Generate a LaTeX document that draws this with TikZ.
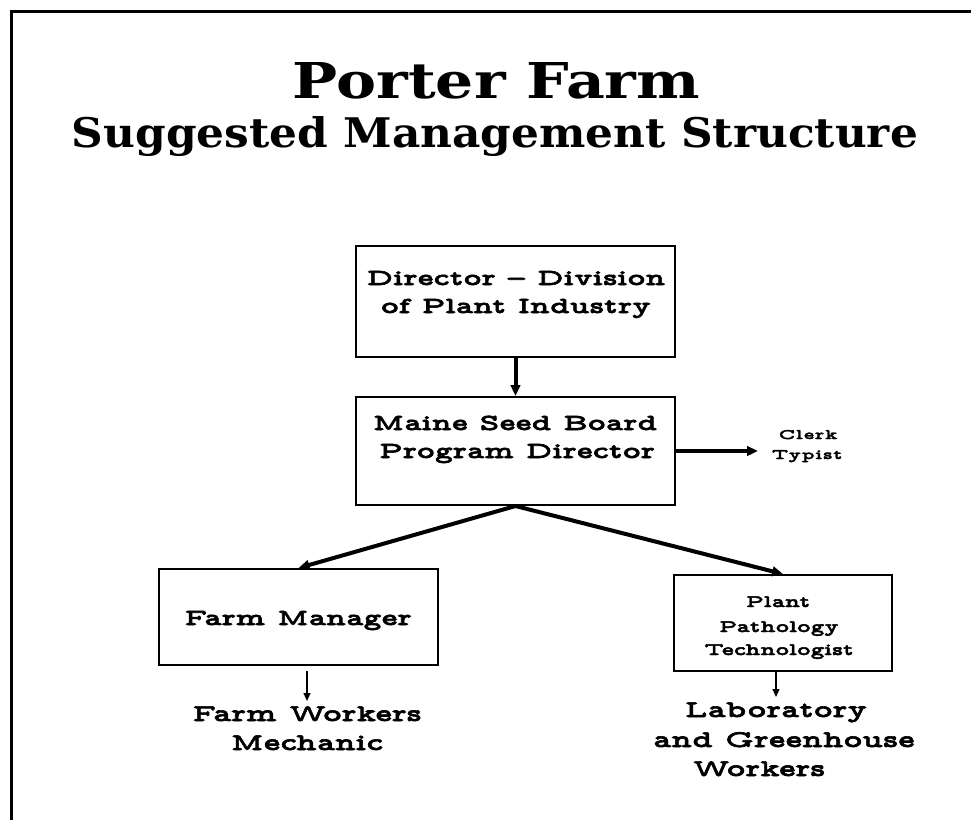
\documentclass[tikz,border=0pt]{standalone}
\usepackage{fontspec}
\usepackage{graphicx}
\usetikzlibrary{arrows.meta}
\newfontfamily\titlefont{DejaVu Serif}
\newfontfamily\boxfont[FakeStretch=1.45,LetterSpace=2,FakeBold=2.5]{lmmonoproplt10-bold.otf}
\newfontfamily\clerkfont[FakeStretch=1.5,LetterSpace=8,FakeBold=2.5]{lmmonoproplt10-bold.otf}
\tikzset{
  box/.style={draw, line width=2pt, inner sep=0pt},
  txt/.style={anchor=base, inner sep=0pt, font=\boxfont\fontsize{23}{26}\selectfont},
  ptxt/.style={anchor=base, inner sep=0pt, font=\boxfont\fontsize{17.5}{20}\selectfont},
  ctxt/.style={anchor=base, inner sep=0pt, font=\clerkfont\fontsize{14.5}{17}\selectfont},
  wtxt/.style={anchor=base, inner sep=0pt, font=\boxfont\fontsize{24}{27}\selectfont},
  arr/.style={line width=4pt, -{Triangle[length=11pt,width=9.5pt]}},
  arrthin/.style={line width=2.5pt, -{Triangle[length=8pt,width=6.5pt]}},
}
\begin{document}
\begin{tikzpicture}[x=1pt,y=-1pt]
\useasboundingbox (0,0) rectangle (971,820);
\fill[white] (0,0) rectangle (971,820);
% frame
\draw[line width=3pt] (11,820) -- (11,11) -- (971,11);
% titles
\node[anchor=base, inner sep=0pt] (t1) at (496.5,98) {\resizebox{407pt}{36pt}{\titlefont\bfseries Porter Farm}};
\node[anchor=base, inner sep=0pt] (t2) at (495,147) {\resizebox{846pt}{31pt}{\titlefont\bfseries Suggested Management Structure}};
% boxes
\node[box, minimum width=319pt, minimum height=111pt] (dir) at (515.5,301.5) {};
\node[box, minimum width=319pt, minimum height=108pt] (msb) at (515.5,451) {};
\node[box, minimum width=279pt, minimum height=96pt] (fm) at (298.5,617) {};
\node[box, minimum width=218pt, minimum height=96pt] (pp) at (783,623) {};
% box texts
\node[txt] (d1) at (516,285) {Director – Division};
\node[txt] (d2) at (516,313) {of Plant Industry};
\node[txt] (m1) at (515,430) {Maine Seed Board};
\node[txt] (m2) at (517,458) {Program Director};
\node[txt] (f1) at (298,625) {Farm Manager};
\node[ptxt] (p1) at (778,607) {Plant};
\node[ptxt] (p2) at (779,632) {Pathology};
\node[ptxt] (p3) at (779,655) {Technologist};
% side / bottom texts
\node[ctxt] (c1) at (808,439) {Clerk};
\node[ctxt] (c2) at (807,459) {Typist};
\node[wtxt] (fw1) at (307,721) {Farm Workers};
\node[wtxt] (fw2) at (307,750) {Mechanic};
\node[wtxt] (l1) at (776,717) {Laboratory};
\node[wtxt] (l2) at (784,747) {and Greenhouse};
\node[wtxt] (l3) at (759,776) {Workers};
% connectors
\coordinate (ct) at (758,451);
\draw[arr] (dir.south) -- (msb.north);
\draw[arr] (msb.east) -- (ct);
\draw[arr] (msb.south) -- (fm.north);
\draw[arr] (msb.south) -- (pp.north);
\draw[arrthin, shorten <=5pt, shorten >=5pt] (fm.south -| fw1.north) -- (fw1.north);
\draw[arrthin, shorten >=5pt] (pp.south -| l1.north) -- (l1.north);
\end{tikzpicture}
\end{document}
